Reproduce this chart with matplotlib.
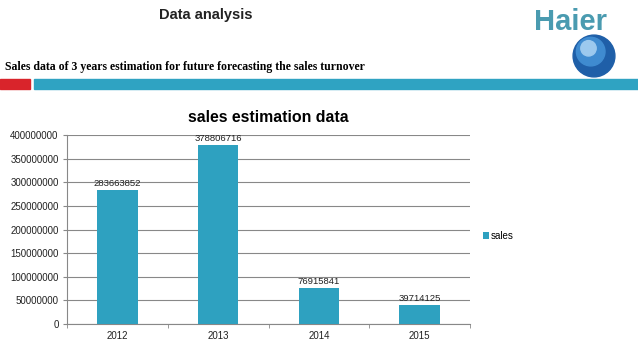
import numpy as np
import matplotlib.pyplot as plt
from matplotlib.patches import Rectangle, Circle

# 데이터
years = ['2012', '2013', '2014', '2015']
sales = [283663852, 378806716, 76915841, 39714125]
y_ticks = [0, 50000000, 100000000, 150000000, 200000000, 250000000,
           300000000, 350000000, 400000000]

bar_color = '#2EA1C0'
W, H = 638, 359

plt.rcParams['font.family'] = ['Liberation Sans', 'DejaVu Sans']
fig = plt.figure(figsize=(W / 100, H / 100), dpi=100)

# 머리글
fig.text(206 / W, 1 - 15 / H, 'Data analysis', ha='center', va='center',
         fontsize=10.5, fontweight='bold', color='#222222')
fig.text(5 / W, 1 - 67 / H,
         'Sales data of 3 years estimation for future forecasting the sales turnover',
         ha='left', va='center', fontsize=8.5, fontweight='bold',
         family=['Liberation Serif', 'DejaVu Serif'], color='black')
fig.text(570 / W, 1 - 22 / H, 'Haier', ha='center', va='center',
         fontsize=21, fontweight='bold', color='#4A9BB0')

# 구분 막대
fig.patches.append(Rectangle((0, 1 - 89 / H), 30 / W, 10 / H,
                             transform=fig.transFigure, color='#D9242B'))
fig.patches.append(Rectangle((34 / W, 1 - 89 / H), 1 - 34 / W, 10 / H,
                             transform=fig.transFigure, color='#2FA3C2'))

# 지구본
gax = fig.add_axes([572 / W, 1 - 78 / H, 44 / W, 44 / H])
gax.set_xlim(-1, 1)
gax.set_ylim(-1, 1)
gax.set_aspect('equal')
gax.axis('off')
gax.add_patch(Circle((0, 0), 0.95, color='#1F5FA8'))
gax.add_patch(Circle((-0.15, 0.2), 0.65, color='#3F8BD0'))
gax.add_patch(Circle((-0.25, 0.35), 0.35, color='#9CC9EE'))

# 막대 그래프
ax = fig.add_axes([67 / W, 1 - 324 / H, (470 - 67) / W, (324 - 135) / H])
x = np.arange(len(years))
bars = ax.bar(x, sales, width=0.4, color=bar_color, label='sales', zorder=3)
for xi, v in zip(x, sales):
    ax.text(xi, v + 4000000, str(v), ha='center', va='bottom',
            fontsize=6.8, color='#222222', zorder=4)

ax.set_xlim(-0.5, len(years) - 0.5)
ax.set_ylim(0, 400000000)
ax.set_yticks(y_ticks)
ax.set_yticklabels([str(t) for t in y_ticks], fontsize=7, color='#222222')
ax.set_xticks(x)
ax.set_xticklabels(years, fontsize=7, color='#222222')
ax.set_xticks(np.arange(-0.5, len(years)), minor=True)
ax.tick_params(axis='x', which='major', length=0, pad=5)
ax.tick_params(axis='x', which='minor', length=3, color='#888888', direction='out')
ax.tick_params(axis='y', length=3, color='#888888', pad=3)
ax.grid(axis='y', color='#888888', linewidth=0.8, zorder=0)
for s in ['top', 'right']:
    ax.spines[s].set_visible(False)
for s in ['left', 'bottom']:
    ax.spines[s].set_color('#888888')
    ax.spines[s].set_linewidth(0.8)
ax.set_title('sales estimation data', fontsize=11.4, fontweight='bold', pad=9)

ax.legend(loc='center left', bbox_to_anchor=(1.01, 0.466), frameon=False,
          fontsize=7, handlelength=0.6, handleheight=0.6, handletextpad=0.2)

fig.savefig('out.png', dpi=100)
